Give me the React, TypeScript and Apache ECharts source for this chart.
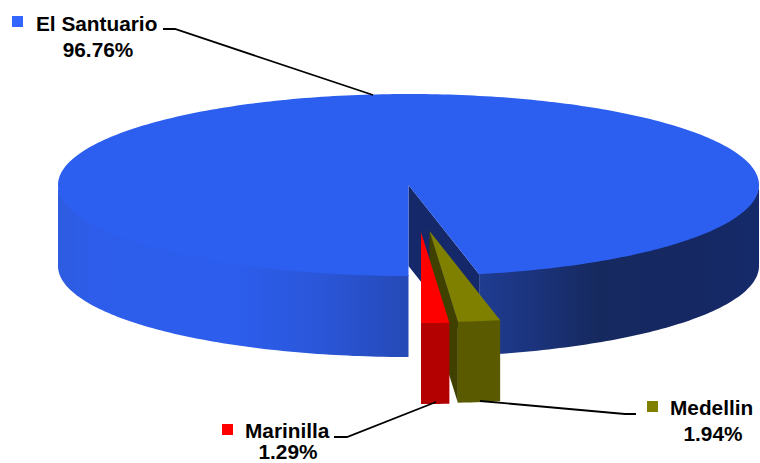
import React, { useEffect, useRef } from "react";
import * as echarts from "echarts";

// Data
const categories = ["El Santuario", "Medellin", "Marinilla"];
const percents = [96.76, 1.94, 1.29];
const swatchColors = ["#3366ff", "#808000", "#ff0000"];

// Per-slice styling
const topColors = ["#2c5ff0", "#808000", "#ff0000"];
const frontColors = ["#2c5ce8", "#5a5a00", "#b30000"];
const innerColors = ["#15296a", "#404000", "#800000"];

// Pie projection
const CX = 408.5;
const CY = 185;
const RX = 350.5;
const RY = 91;
const DEPTH = 81;
const START_ANGLE = 180; // clockwise from the back of the pie
const explode = [
  [0, 0],
  [21, 46],
  [12.5, 47],
];

// Labels and leader lines
const labelLayout = [
  { sx: 12, sy: 16, tx: 36, ty: 23, px: 98, py: 49, line: [[163, 29], [175, 29], [373, 95]] },
  { sx: 647, sy: 401, tx: 670, ty: 407, px: 713, py: 433, line: [[480, 401], [625, 414], [636, 414]] },
  { sx: 222, sy: 424, tx: 245, ty: 430, px: 288, py: 451, line: [[334, 437], [347, 437], [436, 402]] },
];

const FONT = '"Liberation Sans", Arial, sans-serif';

const total = percents.reduce((a, b) => a + b, 0);

function rim(deg: number, ox: number, oy: number, drop = 0): number[] {
  const r = (deg * Math.PI) / 180;
  return [CX + ox + RX * Math.sin(r), CY + oy - RY * Math.cos(r) + drop];
}

function arc(a0: number, a1: number, ox: number, oy: number, drop = 0): number[][] {
  const n = Math.max(2, Math.ceil(Math.abs(a1 - a0) / 1));
  const pts: number[][] = [];
  for (let i = 0; i <= n; i++) pts.push(rim(a0 + ((a1 - a0) * i) / n, ox, oy, drop));
  return pts;
}

// The wall's upper edge runs a pixel under the top face, so no seam shows between them.
function wall(a0: number, a1: number, ox: number, oy: number): number[][] {
  return [...arc(a0, a1, ox, oy, -1), ...arc(a1, a0, ox, oy, DEPTH)];
}

function poly(points: number[][], fill: any) {
  return {
    type: "polygon",
    shape: { points },
    style: { fill, stroke: null },
  };
}

function renderSlice(params: any, api: any) {
  const i = params.dataIndex;
  let a0 = START_ANGLE;
  for (let k = 0; k < i; k++) a0 += (percents[k] / total) * 360;
  const a1 = a0 + (api.value(1) / total) * 360;
  const [ox, oy] = explode[i];
  const apex = [CX + ox, CY + oy];
  const apexLow = [apex[0], apex[1] + DEPTH];
  const children: any[] = [];

  if (i === 0) {
    // a slice that wraps almost all the way round: left and right outer walls
    const leftGrad = new echarts.graphic.LinearGradient(0, 0, 1, 0, [
      { offset: 0, color: "#2e5ce0" },
      { offset: 0.1, color: "#2d5dea" },
      { offset: 0.5, color: "#2c5ded" },
      { offset: 0.75, color: "#2a56d8" },
      { offset: 1, color: "#2549b6" },
    ]);
    const rightGrad = new echarts.graphic.LinearGradient(0, 0, 1, 0, [
      { offset: 0, color: "#1f3c90" },
      { offset: 0.14, color: "#1c3683" },
      { offset: 0.42, color: "#16295f" },
      { offset: 0.75, color: "#152863" },
      { offset: 1, color: "#152a6a" },
    ]);
    const endAngle = a1 - 360;
    children.push(poly(wall(START_ANGLE, 270, 0, 0), leftGrad));
    children.push(poly(wall(90, endAngle, 0, 0), rightGrad));
    const end = rim(endAngle, 0, 0);
    children.push(
      poly([apex, end, [end[0], end[1] + DEPTH], apexLow], innerColors[i])
    );
    children.push(poly([apex, ...arc(START_ANGLE, a1, 0, 0)], topColors[i]));
  } else {
    // the cut face that shows is the one on the slice's left side
    const a = rim(a1, ox, oy);
    children.push(
      poly([apex, a, [a[0], a[1] + DEPTH], apexLow], innerColors[i])
    );
    children.push(poly(wall(a0, a1, ox, oy), frontColors[i]));
    children.push(poly([apex, ...arc(a0, a1, ox, oy)], topColors[i]));
  }
  return { type: "group", children };
}

export default function App() {
  const ref = useRef<HTMLDivElement>(null);

  useEffect(() => {
    if (!ref.current) return;
    const chart = echarts.init(ref.current, undefined, { renderer: "svg" });

    const graphics: any[] = [];
    categories.forEach((name, i) => {
      const l = labelLayout[i];
      graphics.push({
        type: "polyline",
        z: 10,
        shape: { points: l.line },
        style: { stroke: "#000000", lineWidth: 1.8, fill: null },
      });
      graphics.push({
        type: "rect",
        z: 10,
        shape: { x: l.sx, y: l.sy, width: 11, height: 11 },
        style: { fill: swatchColors[i] },
      });
      graphics.push({
        type: "text",
        z: 10,
        x: l.tx,
        y: l.ty,
        style: {
          text: name,
          font: `bold 20.8px ${FONT}`,
          fill: "#000000",
          textAlign: "left",
          textVerticalAlign: "middle",
        },
      });
      graphics.push({
        type: "text",
        z: 10,
        x: l.px,
        y: l.py,
        style: {
          text: `${percents[i].toFixed(2)}%`,
          font: `bold 20.8px ${FONT}`,
          fill: "#000000",
          textAlign: "center",
          textVerticalAlign: "middle",
        },
      });
    });

    chart.setOption({
      animation: false,
      backgroundColor: "#ffffff",
      xAxis: { show: false },
      yAxis: { show: false },
      series: [
        {
          type: "custom",
          coordinateSystem: "none",
          silent: true,
          renderItem: renderSlice,
          data: categories.map((c, i) => [i, percents[i], c]),
          encode: { value: 1 },
        },
      ],
      graphic: graphics,
    });
    return () => chart.dispose();
  }, []);

  return (
    <div
      ref={ref}
      style={{ position: "absolute", left: 0, top: 0, width: 760, height: 463 }}
    />
  );
}
